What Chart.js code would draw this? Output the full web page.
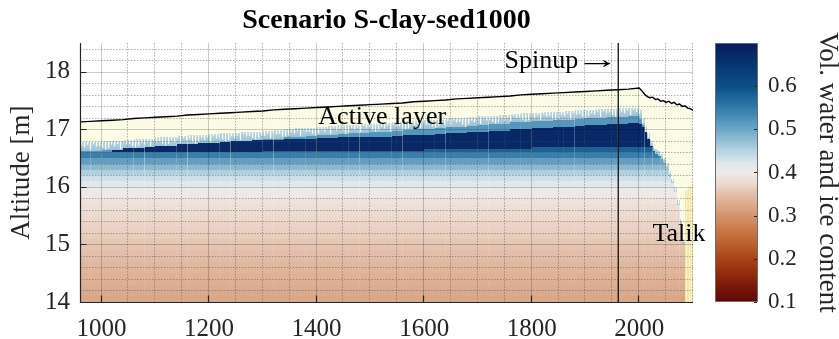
<!DOCTYPE html>
<html>
<head>
<meta charset="utf-8">
<script src="https://cdn.jsdelivr.net/npm/chart.js@4.4.1/dist/chart.umd.min.js"></script>
<style>
  html, body { margin: 0; padding: 0; background: #fff; overflow: hidden; }
  #wrap { position: relative; width: 839px; height: 339px; }
  #main { position: absolute; left: 0; top: 0; }
  #cbar { position: absolute; left: 700px; top: 0; }
</style>
</head>
<body>
<div id="wrap">
  <canvas id="main" width="839" height="339"></canvas>
  <canvas id="cbar" width="139" height="339"></canvas>
</div>
<script>
// ---------------------------------------------------------------------------
// Data
// ---------------------------------------------------------------------------
// Column edges (years): 20-year steps through the spin-up, 5-year steps after 2000
const edgeYears = [
  960, 980, 1000, 1020, 1040, 1060, 1080, 1100, 1120, 1140,
  1160, 1180, 1200, 1220, 1240, 1260, 1280, 1300, 1320, 1340,
  1360, 1380, 1400, 1420, 1440, 1460, 1480, 1500, 1520, 1540,
  1560, 1580, 1600, 1620, 1640, 1660, 1680, 1700, 1720, 1740,
  1760, 1780, 1800, 1820, 1840, 1860, 1880, 1900, 1920, 1940,
  1960, 1980, 2000,
  2005, 2010, 2015, 2020, 2025, 2030, 2035, 2040, 2045, 2050,
  2055, 2060, 2065, 2070, 2075, 2080, 2085, 2090, 2095, 2100
];

// Ground surface altitude at each column edge [m]
const surface = [
  17.13, 17.14, 17.15, 17.16, 17.17, 17.19, 17.20, 17.21, 17.22, 17.23,
  17.25, 17.26, 17.27, 17.28, 17.29, 17.30, 17.31, 17.32, 17.34, 17.35,
  17.36, 17.37, 17.38, 17.39, 17.40, 17.41, 17.42, 17.43, 17.44, 17.45,
  17.46, 17.48, 17.49, 17.50, 17.51, 17.53, 17.54, 17.55, 17.56, 17.57,
  17.58, 17.60, 17.61, 17.62, 17.63, 17.64, 17.65, 17.66, 17.67, 17.68,
  17.69, 17.70, 17.72,
  17.67, 17.61, 17.57, 17.55, 17.56, 17.52, 17.53, 17.49, 17.50, 17.47,
  17.49, 17.45, 17.47, 17.43, 17.44, 17.40, 17.41, 17.37, 17.36, 17.33
];

// Per column: top of the seasonal thaw fringe [m]
const fringeTop = [
  16.78, 16.78, 16.79, 16.80, 16.82, 16.83, 16.84, 16.86, 16.87, 16.89,
  16.90, 16.91, 16.92, 16.93, 16.94, 16.95, 16.96, 16.98, 16.99, 17.01,
  17.02, 17.03, 17.05, 17.06, 17.07, 17.08, 17.09, 17.10, 17.11, 17.12,
  17.14, 17.15, 17.16, 17.17, 17.19, 17.20, 17.21, 17.23, 17.24, 17.25,
  17.27, 17.28, 17.29, 17.30, 17.31, 17.32, 17.33, 17.34, 17.35, 17.36,
  17.37, 17.37,
  17.33, 17.20, 17.06, 16.94, 16.82, 16.72, 16.66, 16.62, 16.57, 16.50,
  16.42, 16.28, 16.14, 16.00, 15.78, 15.45, 15.10, null, null, null
];

// Per column: top of permanently frozen ground [m]
const frozenTop = [
  16.62, 16.63, 16.64, 16.65, 16.67, 16.68, 16.69, 16.71, 16.72, 16.74,
  16.75, 16.76, 16.77, 16.78, 16.79, 16.80, 16.81, 16.83, 16.84, 16.86,
  16.87, 16.88, 16.90, 16.91, 16.92, 16.93, 16.94, 16.95, 16.96, 16.97,
  16.99, 17.00, 17.01, 17.02, 17.04, 17.05, 17.06, 17.08, 17.09, 17.10,
  17.12, 17.13, 17.14, 17.15, 17.16, 17.17, 17.18, 17.19, 17.20, 17.21,
  17.22, 17.23,
  17.18, 17.08, 16.96, 16.84, 16.72, 16.62, 16.57, 16.53, 16.48, 16.41,
  16.32, 16.18, 16.06, 15.92, 15.68, 15.36, 15.00, null, null, null
];

// Per column: top and base of the ice-rich layer [m]
const iceTop = [
  16.60, 16.60, 16.61, 16.65, 16.67, 16.68, 16.69, 16.71, 16.72, 16.74,
  16.75, 16.76, 16.77, 16.78, 16.79, 16.80, 16.81, 16.82, 16.82, 16.83,
  16.83, 16.84, 16.85, 16.85, 16.86, 16.86, 16.87, 16.87, 16.87, 16.88,
  16.90, 16.90, 16.91, 16.92, 16.93, 16.94, 16.95, 16.96, 16.97, 16.98,
  17.00, 17.01, 17.02, 17.03, 17.04, 17.05, 17.06, 17.07, 17.08, 17.09,
  17.10, 17.11,
  17.10, 17.04, 16.96, 16.84, 16.72, 16.62, 16.57, 16.53, 16.48, 16.41,
  16.32, 16.18, 16.06, 15.92, 15.68, 15.36, 15.00, null, null, null
];
const iceBase = [
  16.60, 16.60, 16.60, 16.60, 16.61, 16.61, 16.61, 16.61, 16.61, 16.61,
  16.61, 16.61, 16.61, 16.61, 16.61, 16.61, 16.61, 16.63, 16.63, 16.63,
  16.63, 16.63, 16.63, 16.63, 16.63, 16.63, 16.63, 16.63, 16.63, 16.63,
  16.63, 16.63, 16.66, 16.66, 16.66, 16.66, 16.66, 16.66, 16.66, 16.66,
  16.66, 16.66, 16.69, 16.69, 16.69, 16.69, 16.69, 16.69, 16.69, 16.69,
  16.69, 16.69,
  16.69, 16.69, 16.69, 16.69, 16.69, 16.68, 16.68, 16.68, 16.68, 16.68,
  16.68, 16.68, 16.68, 16.68, 16.68, 16.68, 16.68, 16.68, 16.68, 16.68
];

// Per column: top of the talik (thawed ground below the active layer) [m]
const talikTop = [
  null, null, null, null, null, null, null, null, null, null,
  null, null, null, null, null, null, null, null, null, null,
  null, null, null, null, null, null, null, null, null, null,
  null, null, null, null, null, null, null, null, null, null,
  null, null, null, null, null, null, null, null, null, null,
  null, null,
  null, null, null, null, null, null, null, null, null, null,
  null, null, null, null, null, null, null, 15.95, 16.00, 16.02
];

// Older frozen sediment: content by altitude cell (cell bottoms, 0.1 m thick)
const deepLevels = [
  14.0, 14.1, 14.2, 14.3, 14.4, 14.5, 14.6, 14.7, 14.8, 14.9,
  15.0, 15.1, 15.2, 15.3, 15.4, 15.5, 15.6, 15.7, 15.8, 15.9,
  16.0, 16.1, 16.2, 16.3, 16.4, 16.5, 16.6
];
const deepContent = [
  0.322, 0.326, 0.330, 0.334, 0.337, 0.340, 0.343, 0.347, 0.351, 0.355,
  0.359, 0.363, 0.367, 0.371, 0.375, 0.379, 0.384, 0.390, 0.397, 0.405,
  0.418, 0.435, 0.455, 0.480, 0.510, 0.545, 0.580
];
const deepTop = 16.7;

// Content of the fringe, the young sediment above the ice and the ice-rich layer
const layerContent = [0.47, 0.52, 0.675];

const xTicks = [1000, 1200, 1400, 1600, 1800, 2000];
const yTicks = [14, 15, 16, 17, 18];
const cbTicks = [0.1, 0.2, 0.3, 0.4, 0.5, 0.6];
const xRange = [960, 2100];
const yRange = [14, 18.5];
const cbRange = [0.1, 0.7];
const spinupYear = 1961;

const notes = [
  { text: 'Active layer', x: 1522, y: 17.09, align: 'center' },
  { text: 'Spinup', arrow: '\u2192', x: 1948, y: 18.07, align: 'right' },
  { text: 'Talik', x: 2074, y: 15.06, align: 'center' }
];

// ---------------------------------------------------------------------------
// Colour map (diverging, brown -> light -> blue)
// ---------------------------------------------------------------------------
const cmapStops = [
  [0.100, '#5c0508'], [0.150, '#85200a'], [0.200, '#a84316'], [0.260, '#c77340'],
  [0.300, '#d3936b'], [0.345, '#e1b9a2'], [0.375, '#ecd8cd'], [0.400, '#efebe8'],
  [0.425, '#dce7ec'], [0.455, '#b0d0df'], [0.500, '#6ea7c7'], [0.555, '#2b77a8'],
  [0.600, '#0b5087'], [0.660, '#07306e'], [0.700, '#0a1a5a']
];
const hexRgb = h => [1, 3, 5].map(k => parseInt(h.substr(k, 2), 16));
const stopRgb = cmapStops.map(s => [s[0], hexRgb(s[1])]);
function contentColor(v) {
  v = Math.max(stopRgb[0][0], Math.min(stopRgb[stopRgb.length - 1][0], v));
  for (let k = 0; k < stopRgb.length - 1; k++) {
    const [a, ca] = stopRgb[k], [b, cb] = stopRgb[k + 1];
    if (v <= b) {
      const t = (v - a) / (b - a);
      const c = ca.map((q, j) => Math.round(q + (cb[j] - q) * t));
      return `rgb(${c[0]},${c[1]},${c[2]})`;
    }
  }
  const c = stopRgb[stopRgb.length - 1][1];
  return `rgb(${c[0]},${c[1]},${c[2]})`;
}

const CREAM = '#fcfbe5';
const TALIK = '#f1e7a2';
const TALIK_PALE = '#f9f5d6';
const AXIS = '#262626';
const SERIF = "'Liberation Serif', 'Times New Roman', serif";
const notchDepth = [0.9, 0.4, 0.75, 0.25, 0.6, 0.95, 0.5, 0.3, 0.8, 0.45];

Chart.defaults.font.family = SERIF;
Chart.defaults.color = AXIS;

// ---------------------------------------------------------------------------
// Plugins
// ---------------------------------------------------------------------------
const fieldPlugin = {
  id: 'field',
  beforeDraw(chart) {
    const { ctx, chartArea: a, scales: { x, y } } = chart;
    const px = v => x.getPixelForValue(v);
    const py = v => y.getPixelForValue(v);
    ctx.save();
    ctx.beginPath();
    ctx.rect(a.left, a.top, a.right - a.left, a.bottom - a.top);
    ctx.clip();

    const band = (x0, x1, top, bottom, color) => {
      if (top <= bottom) return;
      const y0 = Math.round(py(top)), y1 = Math.round(py(bottom));
      if (y1 <= y0) return;
      ctx.fillStyle = color;
      ctx.fillRect(x0, y0, x1 - x0, y1 - y0);
    };

    const fringeCol = contentColor(layerContent[0]);
    for (let i = 0; i < edgeYears.length - 1; i++) {
      const x0 = Math.round(px(edgeYears[i])), x1 = Math.round(px(edgeYears[i + 1]));

      // unfrozen ground from the surface down
      ctx.fillStyle = CREAM;
      ctx.beginPath();
      ctx.moveTo(px(edgeYears[i]), py(surface[i]));
      ctx.lineTo(px(edgeYears[i + 1]), py(surface[i + 1]));
      ctx.lineTo(x1, a.bottom);
      ctx.lineTo(x0, a.bottom);
      ctx.closePath();
      ctx.fill();

      if (talikTop[i] != null) {
        band(x0, x1, talikTop[i], y.min, TALIK);
        const ty = Math.round(py(talikTop[i]));
        ctx.fillStyle = TALIK_PALE;
        for (let sx = x0 + 1; sx < x1; sx += 3) ctx.fillRect(sx, ty, 1, a.bottom - ty);
      }

      const ft = frozenTop[i];
      if (ft == null) continue;

      // seasonal thaw fringe above the frozen ground
      const fy0 = Math.round(py(fringeTop[i])), fy1 = Math.round(py(ft));
      if (fy1 > fy0) {
        const g = ctx.createLinearGradient(0, fy0, 0, fy1);
        g.addColorStop(0, '#bcd7e6');
        g.addColorStop(1, fringeCol);
        ctx.fillStyle = g;
        ctx.fillRect(x0, fy0, x1 - x0, fy1 - fy0);
        ctx.fillStyle = CREAM;
        for (let sx = x0; sx < x1; sx++) {
          if ((sx - Math.round(a.left)) % 3 !== 1) continue;
          const d = notchDepth[sx % notchDepth.length];
          ctx.fillRect(sx, fy0, 1.2, (fy1 - fy0) * d);
        }
      }

      const ib = iceBase[i];
      const it = Math.min(ft, iceTop[i]);
      band(x0, x1, ft, Math.max(it, ib), contentColor(layerContent[1]));
      band(x0, x1, it, ib, contentColor(layerContent[2]));

      const cap = Math.min(ft, ib);
      for (let k = 0; k < deepLevels.length; k++) {
        const top = k + 1 < deepLevels.length ? deepLevels[k + 1] : deepTop;
        band(x0, x1, Math.min(top, cap), deepLevels[k], contentColor(deepContent[k]));
      }
    }

    // grid: dotted minor lines, solid major lines
    ctx.lineWidth = 1;
    ctx.setLineDash([1.5, 1.5]);
    ctx.strokeStyle = 'rgba(80,80,80,0.45)';
    ctx.beginPath();
    for (let v = Math.ceil(x.min / 50) * 50; v <= x.max; v += 50) {
      if (xTicks.includes(v)) continue;
      const X = Math.round(px(v)) - 0.5;
      ctx.moveTo(X, a.top); ctx.lineTo(X, a.bottom);
    }
    for (let k = Math.round(y.min / 0.2) + 1; k * 0.2 < y.max; k++) {
      const v = +(k * 0.2).toFixed(1);
      if (yTicks.includes(v)) continue;
      const Y = Math.round(py(v)) + 0.5;
      ctx.moveTo(a.left, Y); ctx.lineTo(a.right, Y);
    }
    ctx.stroke();
    ctx.setLineDash([]);
    ctx.strokeStyle = 'rgba(0,0,0,0.2)';
    ctx.beginPath();
    xTicks.forEach(v => { const X = Math.round(px(v)) - 0.5; ctx.moveTo(X, a.top); ctx.lineTo(X, a.bottom); });
    yTicks.forEach(v => { if (v === y.min) return; const Y = Math.round(py(v)) + 0.5; ctx.moveTo(a.left, Y); ctx.lineTo(a.right, Y); });
    ctx.stroke();
    ctx.restore();
  },
  afterDatasetsDraw(chart) {
    const { ctx, chartArea: a, scales: { x, y } } = chart;
    ctx.save();
    ctx.strokeStyle = AXIS;
    ctx.lineWidth = 1.2;
    ctx.beginPath();
    ctx.moveTo(a.left + 0.5, a.top); ctx.lineTo(a.left + 0.5, a.bottom + 0.5);
    ctx.lineTo(a.right, a.bottom + 0.5);
    xTicks.forEach(v => { const X = Math.round(x.getPixelForValue(v)) - 0.5; ctx.moveTo(X, a.bottom); ctx.lineTo(X, a.bottom - 6.5); });
    yTicks.forEach(v => { const Y = Math.round(y.getPixelForValue(v)) + 0.5; ctx.moveTo(a.left, Y); ctx.lineTo(a.left + 6.5, Y); });
    ctx.stroke();
    ctx.restore();
  },
  afterDraw(chart) {
    const { ctx, scales: { x, y } } = chart;
    ctx.save();
    ctx.fillStyle = '#000';
    ctx.font = `26px ${SERIF}`;
    ctx.textBaseline = 'alphabetic';
    notes.forEach(n => {
      const X = x.getPixelForValue(n.x), Y = y.getPixelForValue(n.y);
      if (!n.arrow) {
        ctx.textAlign = n.align;
        ctx.fillText(n.text, X, Y);
        return;
      }
      // label followed by a long arrow ending just left of the anchor
      const arrowWidth = 27;
      ctx.textAlign = 'left';
      const m = ctx.measureText(n.arrow);
      const inkLeft = -m.actualBoundingBoxLeft;
      const inkWidth = Math.max(1, m.actualBoundingBoxRight + m.actualBoundingBoxLeft);
      const sx = arrowWidth / inkWidth;
      const lead = ctx.measureText(n.text).width + 6;
      ctx.fillText(n.text, X - arrowWidth - lead, Y);
      ctx.save();
      ctx.translate(X - arrowWidth - inkLeft * sx, Y);
      ctx.scale(sx, 1);
      ctx.fillText(n.arrow, 0, 0);
      ctx.restore();
    });
    ctx.restore();
  }
};

const colorbarPlugin = {
  id: 'colorbar',
  beforeDraw(chart) {
    const { ctx, chartArea: a, scales: { y } } = chart;
    const step = 0.0025;
    ctx.save();
    for (let v = cbRange[0]; v < cbRange[1] - 1e-9; v += step) {
      const y0 = Math.floor(y.getPixelForValue(Math.min(v + step, cbRange[1])));
      const y1 = Math.ceil(y.getPixelForValue(v));
      ctx.fillStyle = contentColor(v + step / 2);
      ctx.fillRect(a.left, y0, a.right - a.left, y1 - y0);
    }
    ctx.restore();
  },
  afterDraw(chart) {
    const { ctx, chartArea: a, scales: { y } } = chart;
    ctx.save();
    ctx.strokeStyle = '#6e6e6e';
    ctx.lineWidth = 1;
    ctx.strokeRect(Math.round(a.left) + 0.5, Math.round(a.top) + 0.5,
                   Math.round(a.right - a.left) - 1, Math.round(a.bottom - a.top) - 1);
    ctx.strokeStyle = AXIS;
    ctx.beginPath();
    cbTicks.forEach(v => {
      const Y = Math.round(y.getPixelForValue(v)) + 0.5;
      ctx.moveTo(a.right - 1, Y); ctx.lineTo(a.right - 4, Y);
    });
    ctx.stroke();
    ctx.restore();
  }
};

// ---------------------------------------------------------------------------
// Main panel
// ---------------------------------------------------------------------------
new Chart(document.getElementById('main'), {
  type: 'line',
  data: {
    datasets: [
      {
        data: edgeYears.map((yr, i) => ({ x: yr, y: surface[i] })),
        borderColor: '#000', borderWidth: 1.4, pointRadius: 0, tension: 0, fill: false
      },
      {
        data: [{ x: spinupYear, y: yRange[0] }, { x: spinupYear, y: yRange[1] }],
        borderColor: '#111', borderWidth: 1.3, pointRadius: 0, fill: false
      }
    ]
  },
  options: {
    responsive: false, animation: false,
    layout: { padding: { left: 0, right: 146, top: 0, bottom: 0 } },
    plugins: {
      legend: { display: false },
      tooltip: { enabled: false },
      title: {
        display: true, fullSize: false,
        text: 'Scenario S-clay-sed1000',
        color: '#000',
        font: { family: SERIF, size: 28, weight: 'bold', lineHeight: 1.2 },
        padding: { top: 4, bottom: 5.5 }
      }
    },
    scales: {
      x: {
        type: 'linear', min: xRange[0], max: xRange[1],
        grid: { display: false, drawTicks: false },
        border: { display: false },
        afterBuildTicks: s => { s.ticks = xTicks.map(v => ({ value: v })); },
        afterFit: s => { s.height = 37; },
        ticks: { padding: 12.6, maxRotation: 0, autoSkip: false, font: { size: 25 }, color: AXIS, callback: v => String(v) }
      },
      y: {
        type: 'linear', min: yRange[0], max: yRange[1],
        grid: { display: false, drawTicks: false },
        border: { display: false },
        afterBuildTicks: s => { s.ticks = yTicks.map(v => ({ value: v })); },
        afterFit: s => { s.width = 80; },
        ticks: { padding: 10, autoSkip: false, font: { size: 25 }, color: AXIS, callback: v => String(v) },
        title: {
          display: true, text: 'Altitude [m]', color: AXIS,
          font: { size: 27, lineHeight: 1.2 }, padding: { top: 6, bottom: 0 }
        }
      }
    }
  },
  plugins: [fieldPlugin]
});

// ---------------------------------------------------------------------------
// Colour bar
// ---------------------------------------------------------------------------
new Chart(document.getElementById('cbar'), {
  type: 'line',
  data: { datasets: [] },
  options: {
    responsive: false, animation: false,
    layout: { padding: { left: 15, top: 43, bottom: 37, right: 0 } },
    plugins: { legend: { display: false }, tooltip: { enabled: false } },
    scales: {
      x: { display: false },
      y: {
        type: 'linear', position: 'right', min: cbRange[0], max: cbRange[1],
        grid: { display: false, drawTicks: false },
        border: { display: false },
        afterBuildTicks: s => { s.ticks = cbTicks.map(v => ({ value: v })); },
        afterFit: s => { s.width = 81; },
        ticks: { padding: 10, autoSkip: false, font: { size: 23 }, color: AXIS, callback: v => v.toFixed(1) },
        title: {
          display: true, text: 'Vol. water and ice content', color: AXIS,
          font: { size: 27, lineHeight: 0.9 }, padding: 0
        }
      }
    }
  },
  plugins: [colorbarPlugin]
});
</script>
</body>
</html>
